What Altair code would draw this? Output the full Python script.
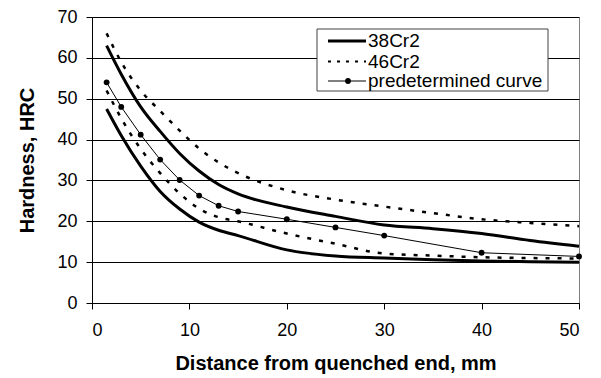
import altair as alt
import pandas as pd

# Jominy distances (mm)
dist = [1.5, 3, 5, 7, 9, 11, 13, 15, 20, 25, 30, 35, 40, 45, 50]
cr38_max = [63, 56, 48, 42, 36.6, 32.3, 29, 26.7, 23.5, 21.2, 19.1, 18.2, 17, 15.3, 13.9]
cr38_min = [47.5, 41, 33.5, 27.3, 23, 19.8, 17.8, 16.5, 13, 11.5, 11, 10.6, 10.3, 10.1, 10]
cr46_max = [66, 59, 52, 47, 42.2, 37.8, 34.4, 31.8, 27.6, 25.3, 23.6, 22, 20.5, 19.6, 18.8]
cr46_min = [52, 45.2, 37.7, 31.8, 26.8, 23.1, 21, 20, 17, 14.5, 12.1, 11.6, 11.2, 11, 10.9]

pred_dist = [1.5, 3, 5, 7, 9, 11, 13, 15, 20, 25, 30, 40, 50]
pred_hrc = [54, 48, 41.2, 35.1, 30.1, 26.3, 23.8, 22.4, 20.5, 18.5, 16.5, 12.3, 11.4]

x_ticks = [0, 10, 20, 30, 40, 50]
y_ticks = [0, 10, 20, 30, 40, 50, 60, 70]
legend_labels = ["38Cr2", "46Cr2", "predetermined curve"]

FONT = "Liberation Sans"
W, H = 487, 286

def band(vals_max, vals_min, name):
    rows = []
    for d, v in zip(dist, vals_max):
        rows.append({"d": d, "hrc": v, "curve": name + " max"})
    for d, v in zip(dist, vals_min):
        rows.append({"d": d, "hrc": v, "curve": name + " min"})
    return pd.DataFrame(rows)

df38 = band(cr38_max, cr38_min, "38Cr2")
df46 = band(cr46_max, cr46_min, "46Cr2")
dfp = pd.DataFrame({"d": pred_dist, "hrc": pred_hrc})

xs = alt.X("d:Q", scale=alt.Scale(domain=[0, 50], nice=False),
           axis=alt.Axis(values=x_ticks, title="Distance from quenched end, mm", grid=False))
ys = alt.Y("hrc:Q", scale=alt.Scale(domain=[0, 70], nice=False),
           axis=alt.Axis(values=y_ticks, title="Hardness, HRC", grid=True))

l38 = alt.Chart(df38).mark_line(color="black", strokeWidth=3, interpolate="monotone").encode(
    x=xs, y=ys, detail="curve:N")
l46 = alt.Chart(df46).mark_line(color="black", strokeWidth=2.5, strokeDash=[4, 8],
                                interpolate="monotone").encode(x=xs, y=ys, detail="curve:N")
lp = alt.Chart(dfp).mark_line(color="black", strokeWidth=1).encode(x=xs, y=ys)
pp = alt.Chart(dfp).mark_point(filled=True, color="black", size=34, opacity=1).encode(x=xs, y=ys)

one = pd.DataFrame({"a": [0]})
box = alt.Chart(one).mark_rect(fill="white", stroke="#404040", strokeWidth=1).encode(
    x=alt.value(225), x2=alt.value(456), y=alt.value(12), y2=alt.value(74))
rows_y = [24, 44.5, 64]
sym1 = alt.Chart(one).mark_rule(color="black", strokeWidth=3).encode(
    x=alt.value(236), x2=alt.value(274), y=alt.value(rows_y[0]))
sym2 = alt.Chart(one).mark_rule(color="black", strokeWidth=2, strokeDash=[3, 6]).encode(
    x=alt.value(236), x2=alt.value(274), y=alt.value(rows_y[1]))
sym3 = alt.Chart(one).mark_rule(color="black", strokeWidth=1).encode(
    x=alt.value(236), x2=alt.value(274), y=alt.value(rows_y[2]))
sym3p = alt.Chart(one).mark_point(filled=True, color="black", size=34, opacity=1).encode(
    x=alt.value(256), y=alt.value(rows_y[2]))
texts = [alt.Chart(one).mark_text(align="left", baseline="middle", fontSize=19, font=FONT,
                                  color="black").encode(
    x=alt.value(276), y=alt.value(yy), text=alt.value(lab)) for lab, yy in zip(legend_labels, rows_y)]

chart = alt.layer(l46, l38, lp, pp, box, sym1, sym2, sym3, sym3p, *texts).properties(
    width=W, height=H,
    autosize=alt.AutoSizeParams(type="none"),
    padding={"left": 84, "top": 9, "right": 12, "bottom": 73},
).configure_view(stroke="#808080", strokeWidth=1).configure_axis(
    domainColor="black", tickColor="black", gridColor="black", gridWidth=1,
    tickSize=6, labelFont=FONT, labelFontSize=18, labelColor="black",
    titleFont=FONT, titleFontSize=20, titleFontWeight="bold", titleColor="black",
).configure_axisX(labelPadding=12, titlePadding=14).configure_axisY(labelPadding=9, titlePadding=19)

chart.save("out.html", embed_options={"renderer": "svg", "actions": False})
